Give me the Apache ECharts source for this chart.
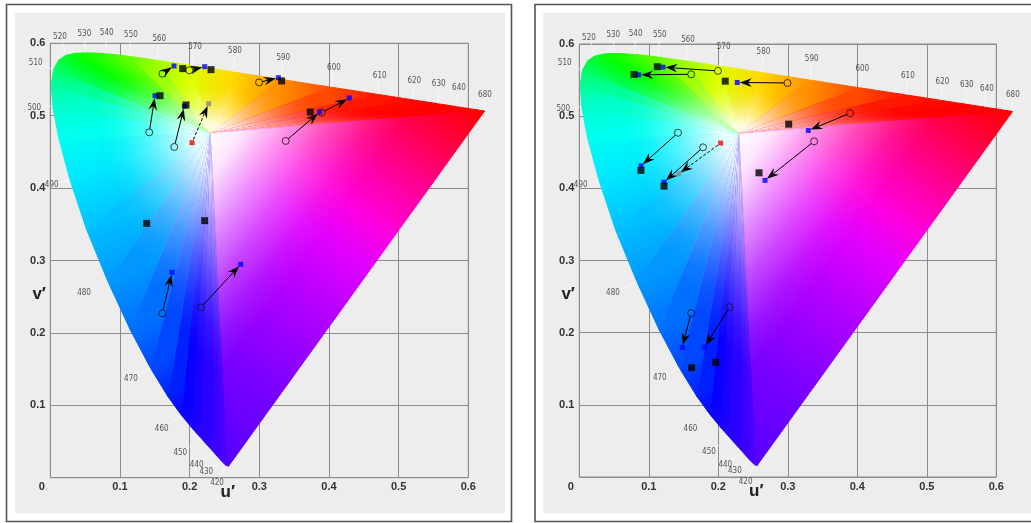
<!DOCTYPE html>
<html><head><meta charset="utf-8">
<script src="https://cdn.jsdelivr.net/npm/echarts@6/dist/echarts.min.js"></script>
<style>html,body{margin:0;padding:0;background:#fff;}#c{width:1031px;height:523px;}</style>
</head><body><div id="c"></div>
<script>
// ---------- DATA ----------
const tickLabels = ['0', '0.1', '0.2', '0.3', '0.4', '0.5', '0.6'];
// CIE 1976 spectral locus (nm, u', v')
const locusNm = [400,420,430,440,450,455,460,465,470,475,480,485,490,495,500,505,510,515,520,525,530,535,540,545,550,560,570,580,590,600,610,620,630,640,650,680];
const locusU = [0.2557,0.2522,0.2461,0.2347,0.2161,0.2033,0.1877,0.1690,0.1441,0.1147,0.0828,0.0521,0.0282,0.0119,0.0035,0.0014,0.0046,0.0123,0.0231,0.0360,0.0501,0.0643,0.0792,0.0953,0.1127,0.1531,0.2026,0.2623,0.3315,0.4035,0.4692,0.5203,0.5565,0.5830,0.6005,0.6234];
const locusV = [0.0159,0.0169,0.0226,0.0350,0.0549,0.0688,0.0871,0.1119,0.1510,0.2044,0.2708,0.3427,0.4117,0.4698,0.5131,0.5432,0.5638,0.5770,0.5837,0.5861,0.5868,0.5865,0.5856,0.5841,0.5821,0.5766,0.5694,0.5604,0.5501,0.5393,0.5296,0.5219,0.5165,0.5125,0.5099,0.5065];
const whitePoint = [0.23, 0.476];
// wavelength labels
const wlLabels = ['520','530','540','550','560','570','580','590','600','610','620','630','640','680','510','500','490','480','470','460','450','440','430','420'];
const wlLabelU = [0.0139,0.0489,0.0810,0.1158,0.1565,0.2077,0.2650,0.3344,0.4072,0.4728,0.5225,0.5575,0.5866,0.6239,-0.0210,-0.0230,0.0020,0.0484,0.1158,0.1599,0.1866,0.2101,0.2239,0.2393];
const wlLabelV = [0.6090,0.6125,0.6142,0.6119,0.6055,0.5953,0.5893,0.5793,0.5655,0.5553,0.5480,0.5434,0.5379,0.5290,0.5732,0.5102,0.4043,0.2555,0.1367,0.0673,0.0341,0.0170,0.0079,-0.0069];
// source colours (open circles), shared by both panels
const srcU = [0.161, 0.1995, 0.142, 0.178, 0.2996, 0.3379, 0.3896, 0.1608, 0.2163];
const srcV = [0.558, 0.5627, 0.477, 0.4568, 0.546, 0.4651, 0.5041, 0.2271, 0.2353];
// left panel results (blue) and targets (black)
const leftOutU = [0.1776, 0.2216, 0.1503, 0.1925, 0.3273, 0.3867, 0.4292, 0.1747, 0.2733];
const leftOutV = [0.5687, 0.5677, 0.5276, 0.5130, 0.5525, 0.5051, 0.5245, 0.2837, 0.2947];
const leftTargetU = [0.190, 0.2307, 0.1575, 0.1948, 0.332, 0.3732, 0.1383, 0.2216];
const leftTargetV = [0.565, 0.5636, 0.5276, 0.5148, 0.548, 0.5051, 0.3513, 0.355];
// right panel results and targets
const rightOutU = [0.0855, 0.1204, 0.0888, 0.1219, 0.2273, 0.2672, 0.3295, 0.1482, 0.1799];
const rightOutV = [0.5573, 0.5679, 0.4312, 0.4086, 0.5467, 0.411, 0.4802, 0.1796, 0.1796];
const rightTargetU = [0.0787, 0.1122, 0.0888, 0.1219, 0.210, 0.2586, 0.3013, 0.1617, 0.1963];
const rightTargetV = [0.5578, 0.5685, 0.4248, 0.403, 0.5485, 0.4215, 0.4889, 0.1514, 0.1589];
// reference white (red) and its shifted position (grey)
const refPoint = [0.2034, 0.4627];
const leftRefOut = [0.2273, 0.5166];
const rightRefOut = [0.143, 0.420];

// ---------- STYLE ----------
const locusColor = {400:'#5500ff',420:'#5000ff',430:'#4800ff',440:'#3c00ff',450:'#2a00ff',455:'#1a00ff',460:'#0a00ff',465:'#0020ff',470:'#0048ff',475:'#0070ff',480:'#0098ff',485:'#00c0ff',490:'#00e8ff',495:'#00fff0',500:'#00ffcc',505:'#00ff99',510:'#00ff66',515:'#00ff40',520:'#00ff20',525:'#00ff08',530:'#10ff00',535:'#20ff00',540:'#30ff00',545:'#48ff00',550:'#60ff00',560:'#9cff00',570:'#dcff00',580:'#ffd800',590:'#ff9000',600:'#ff4800',610:'#ff1800',620:'#ff0800',630:'#ff0000',640:'#ff0000',650:'#ff0000',680:'#ff0000'};
const purpleStops = [[0,'#5500ff'],[0.2,'#7a00ff'],[0.4,'#b000ff'],[0.55,'#e000ff'],[0.65,'#ff00dd'],[0.78,'#ff0090'],[0.9,'#ff0040'],[1,'#ff0000']];
const whiteStops = [[0,1],[0.12,0.9],[0.28,0.58],[0.45,0.28],[0.6,0.08],[0.72,0],[1,0]];

function linGrad(x, y, x2, y2, stops) {
  return {type:'linear', x:x, y:y, x2:x2, y2:y2, global:true,
    colorStops: stops.map(s => ({offset: s[0], color: s[1]}))};
}

// geometry of fan triangle i (white point, locus point i, next locus point)
function fanGeom(i, api) {
  const n = locusU.length;
  const W = api.coord(whitePoint);
  const P = api.coord([locusU[i], locusV[i]]);
  const Q = i < n - 1 ? api.coord([locusU[i+1], locusV[i+1]]) : api.coord([locusU[0], locusV[0]]);
  return {W, P, Q, purple: i === n - 1};
}

function gamutColorItem(params, api) {
  const i = params.dataIndex;
  const g = fanGeom(i, api);
  const fill = g.purple
    ? linGrad(g.Q[0], g.Q[1], g.P[0], g.P[1], purpleStops)
    : linGrad(g.P[0], g.P[1], g.Q[0], g.Q[1], [[0, locusColor[locusNm[i]]], [1, locusColor[locusNm[i+1]]]]);
  return {type:'polygon', shape:{points:[g.W, g.P, g.Q]}, style:{fill:fill, stroke:fill, lineWidth:1}};
}

function gamutLightItem(params, api) {
  const g = fanGeom(params.dataIndex, api);
  let F;
  if (g.purple) {
    const dx = g.Q[0]-g.P[0], dy = g.Q[1]-g.P[1];
    const t = ((g.W[0]-g.P[0])*dx + (g.W[1]-g.P[1])*dy)/(dx*dx+dy*dy);
    F = [g.P[0]+t*dx, g.P[1]+t*dy];
  } else {
    F = [(g.P[0]+g.Q[0])/2, (g.P[1]+g.Q[1])/2];
  }
  const fill = linGrad(g.W[0], g.W[1], F[0], F[1], whiteStops.map(s => [s[0], 'rgba(255,255,255,' + s[1] + ')']));
  return {type:'polygon', shape:{points:[g.W, g.P, g.Q]}, style:{fill:fill}};
}

function labelItem(params, api) {
  const i = params.dataIndex;
  const L = api.coord([wlLabelU[i], wlLabelV[i]]);
  const k = locusNm.indexOf(+wlLabels[i]);
  const children = [];
  if (k >= 0) {
    const P = api.coord([locusU[k], locusV[k]]);
    const dx = P[0]-L[0], dy = P[1]-L[1], d = Math.hypot(dx,dy);
    if (d > 8) {
      children.push({type:'line', shape:{x1:L[0]+dx/d*5, y1:L[1]+dy/d*5, x2:P[0], y2:P[1]},
        style:{stroke:'rgba(255,255,255,0.55)', lineWidth:1}});
    }
  }
  children.push({type:'text', x:L[0], y:L[1], style:{text:wlLabels[i], fill:'#555', fontSize:8,
    fontFamily:"'Liberation Sans Narrow','DejaVu Sans Condensed',sans-serif", align:'center', verticalAlign:'middle'}});
  return {type:'group', children};
}

function axisTitleItem(params, api) {
  const p = api.coord([api.value(0), api.value(1)]);
  return {type:'text', x:p[0], y:p[1], style:{text:'v′', fill:'#222', fontSize:17, fontWeight:'bold',
    fontFamily:"'Liberation Sans', Arial, sans-serif", align:'center', verticalAlign:'middle'}};
}

function arrowItem(dashed) {
  return function(params, api) {
    const p0 = api.coord([api.value(0), api.value(1)]);
    const p1 = api.coord([api.value(2), api.value(3)]);
    const dx = p1[0]-p0[0], dy = p1[1]-p0[1], L = Math.hypot(dx,dy);
    const ux = dx/L, uy = dy/L;
    const start = [p0[0]+ux*3.5, p0[1]+uy*3.5];
    const tip = [p1[0]-ux*2.5, p1[1]-uy*2.5];
    const hl = 12, hw = 4.3, notch = 8;
    const back = [tip[0]-ux*hl, tip[1]-uy*hl];
    const left = [back[0]-uy*hw, back[1]+ux*hw];
    const right = [back[0]+uy*hw, back[1]-ux*hw];
    const inner = [tip[0]-ux*notch, tip[1]-uy*notch];
    return {type:'group', children:[
      {type:'line', shape:{x1:start[0], y1:start[1], x2:inner[0], y2:inner[1]},
        style:{stroke:'#000', lineWidth:1, lineDash: dashed ? [3,2] : null}},
      {type:'polygon', shape:{points:[tip,left,inner,right]}, style:{fill:'#000'}}
    ]};
  };
}

const grids = [
  {left:50.3, top:43.3, width:418, height:434.4},
  {left:579.3, top:44, width:417, height:433}
];
const outs = [[leftOutU, leftOutV], [rightOutU, rightOutV]];
const targets = [[leftTargetU, leftTargetV], [rightTargetU, rightTargetV]];
const refOuts = [leftRefOut, rightRefOut];

const font = "'Liberation Sans', Arial, sans-serif";
const option = {
  animation: false,
  backgroundColor: '#ffffff',
  graphic: [
    {type:'rect', z:-100, silent:true, shape:{x:6.5, y:4.5, width:505, height:517}, style:{fill:'#fff', stroke:'#555', lineWidth:1.6}},
    {type:'rect', z:-99, silent:true, shape:{x:15, y:12.7, width:490, height:500.6}, style:{fill:'#ededed'}},
    {type:'rect', z:-100, silent:true, shape:{x:535, y:4.5, width:520, height:517}, style:{fill:'#fff', stroke:'#555', lineWidth:1.6}},
    {type:'rect', z:-99, silent:true, shape:{x:543.3, y:12.7, width:500, height:500.6}, style:{fill:'#ededed'}}
  ],
  grid: grids.map(g => Object.assign({show:true, backgroundColor:'transparent', borderColor:'#8c8c8c', borderWidth:1, outerBoundsMode:'none', containLabel:false}, g)),
  xAxis: grids.map((g, i) => ({
    gridIndex:i, type:'value', min:0, max:0.6, interval:0.1,
    axisLine:{show:false}, axisTick:{show:false},
    splitLine:{show:true, lineStyle:{color:'#8c8c8c', width:1}},
    axisLabel:{color:'#333', fontWeight:'bold', fontSize:11, fontFamily:font, margin:4,
      formatter: v => { const s = tickLabels[Math.round(v*10)]; return v === 0 ? '{z|' + s + '}' : s; },
      rich:{z:{padding:[0,17,0,0], color:'#333', fontWeight:'bold', fontSize:11, fontFamily:font}}},
    name:'u′', nameLocation:'middle', nameGap:6, nameMoveOverlap:false,
    nameTextStyle:{fontSize:17, fontWeight:'bold', color:'#222', fontFamily:font, padding:[0,63,0,0]}
  })),
  yAxis: grids.map((g, i) => ({
    gridIndex:i, type:'value', min:0, max:0.6, interval:0.1,
    axisLine:{show:false}, axisTick:{show:false},
    splitLine:{show:true, lineStyle:{color:'#8c8c8c', width:1}},
    axisLabel:{color:'#333', fontWeight:'bold', fontSize:11, fontFamily:font, margin:5, showMinLabel:false,
      formatter: v => tickLabels[Math.round(v*10)]}
  })),
  series: []
};

grids.forEach((g, gi) => {
  const ax = {xAxisIndex:gi, yAxisIndex:gi};
  const locusData = locusU.map((u, i) => [u, locusV[i]]);
  option.series.push(Object.assign({
    type:'custom', name:'gamut', z:1, clip:false, silent:true,
    data: locusData, encode:{x:0, y:1}, renderItem: gamutColorItem
  }, ax));
  option.series.push(Object.assign({
    type:'custom', name:'gamut light', z:1.5, clip:false, silent:true,
    data: locusData, encode:{x:0, y:1}, renderItem: gamutLightItem
  }, ax));
  option.series.push(Object.assign({
    type:'custom', name:'wavelength', z:2, clip:false, silent:true,
    data: wlLabelU.map((u, i) => [u, wlLabelV[i]]), encode:{x:0, y:1},
    renderItem: labelItem
  }, ax));
  option.series.push(Object.assign({
    type:'custom', name:'v′ title', z:2, clip:false, silent:true,
    data: [[-0.016, 0.253]], encode:{x:0, y:1},
    renderItem: axisTitleItem
  }, ax));
  option.series.push(Object.assign({
    type:'scatter', name:'source', z:3, silent:true, symbol:'circle', symbolSize:7,
    itemStyle:{color:'rgba(0,0,0,0)', borderColor:'#151515', borderWidth:1},
    data: srcU.map((u, i) => [u, srcV[i]])
  }, ax));
  option.series.push(Object.assign({
    type:'custom', name:'arrows', z:4, clip:false, silent:true,
    data: srcU.map((u, i) => [u, srcV[i], outs[gi][0][i], outs[gi][1][i]]), encode:{x:[0,2], y:[1,3]},
    renderItem: arrowItem(false)
  }, ax));
  option.series.push(Object.assign({
    type:'custom', name:'refShift', z:4, clip:false, silent:true,
    data: [[refPoint[0], refPoint[1], refOuts[gi][0], refOuts[gi][1]]], encode:{x:[0,2], y:[1,3]},
    renderItem: arrowItem(true)
  }, ax));
  option.series.push(Object.assign({
    type:'scatter', name:'result', z:5, silent:true, symbol:'rect', symbolSize:5,
    itemStyle:{color:'#0000ff'},
    data: outs[gi][0].map((u, i) => [u, outs[gi][1][i]])
  }, ax));
  option.series.push(Object.assign({
    type:'scatter', name:'target', z:6, silent:true, symbol:'rect', symbolSize:7,
    itemStyle:{color:'#000'},
    data: targets[gi][0].map((u, i) => [u, targets[gi][1][i]])
  }, ax));
  option.series.push(Object.assign({
    type:'scatter', name:'ref', z:6, silent:true, symbol:'rect', symbolSize:5,
    itemStyle:{color:'#ff0000'}, data: [refPoint]
  }, ax));
  option.series.push(Object.assign({
    type:'scatter', name:'refOut', z:6, silent:true, symbol:'rect', symbolSize:5,
    itemStyle:{color:'#888888'}, data: [refOuts[gi]]
  }, ax));
});

const chart = echarts.init(document.getElementById('c'), null, {renderer:'canvas'});
chart.setOption(option);
</script></body></html>
